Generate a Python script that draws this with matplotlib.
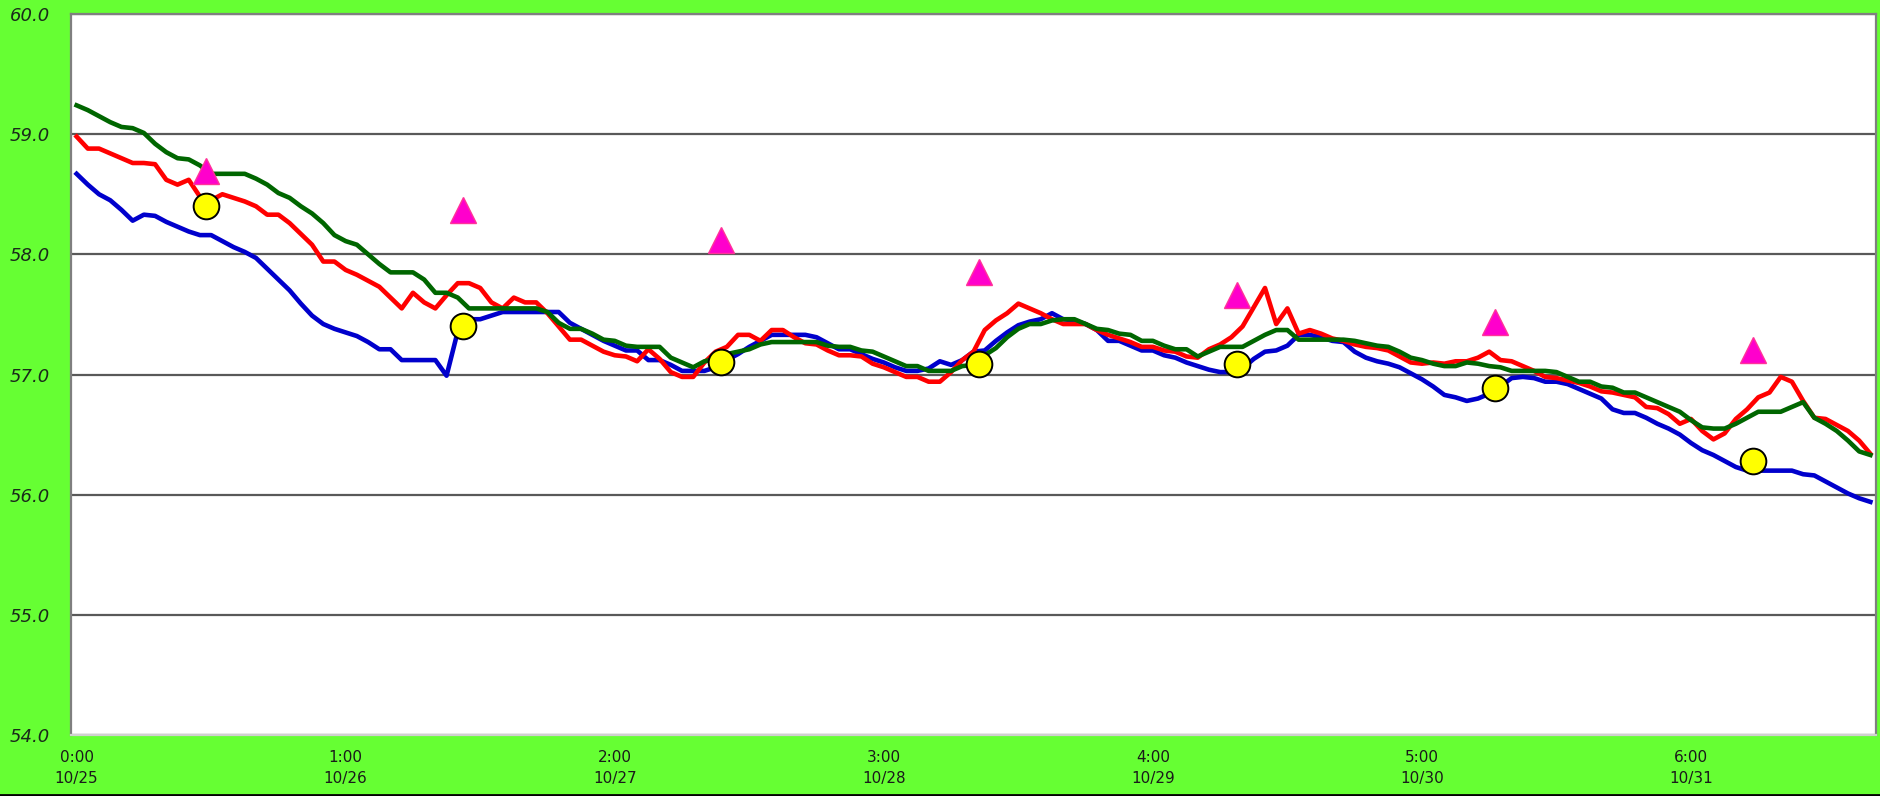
import matplotlib
matplotlib.use("Agg")
import matplotlib.pyplot as plt
from matplotlib.lines import Line2D
import numpy as np

# ---------------- data ----------------
tick_labels = ["0:00\n10/25", "1:00\n10/26", "2:00\n10/27", "3:00\n10/28",
               "4:00\n10/29", "5:00\n10/30", "6:00\n10/31"]
tick_positions = [0, 24, 48, 72, 96, 120, 144]

blue = [58.67, 58.58, 58.50, 58.45, 58.37, 58.28, 58.33, 58.32, 58.27, 58.23,
        58.19, 58.16, 58.16, 58.11, 58.06, 58.02, 57.97, 57.88, 57.79, 57.70,
        57.59, 57.49, 57.42, 57.38, 57.35, 57.32, 57.27, 57.21, 57.21, 57.12,
        57.12, 57.12, 57.12, 56.99, 57.36, 57.46, 57.46, 57.49, 57.52, 57.52,
        57.52, 57.52, 57.52, 57.52, 57.43, 57.38, 57.33, 57.28, 57.24, 57.20,
        57.20, 57.12, 57.12, 57.08, 57.03, 57.03, 57.03, 57.06, 57.12, 57.17,
        57.23, 57.28, 57.33, 57.33, 57.33, 57.33, 57.31, 57.26, 57.21, 57.21,
        57.17, 57.13, 57.10, 57.06, 57.03, 57.03, 57.05, 57.11, 57.08, 57.12,
        57.19, 57.20, 57.28, 57.35, 57.41, 57.44, 57.46, 57.51, 57.46, 57.45,
        57.42, 57.37, 57.28, 57.28, 57.24, 57.20, 57.20, 57.16, 57.14, 57.10,
        57.07, 57.04, 57.02, 57.02, 57.05, 57.13, 57.19, 57.20, 57.24, 57.33,
        57.33, 57.31, 57.28, 57.27, 57.19, 57.14, 57.11, 57.09, 57.06, 57.01,
        56.96, 56.90, 56.83, 56.81, 56.78, 56.80, 56.84, 56.90, 56.97, 56.98,
        56.97, 56.94, 56.94, 56.92, 56.88, 56.84, 56.80, 56.71, 56.68, 56.68,
        56.64, 56.59, 56.55, 56.50, 56.43, 56.37, 56.33, 56.28, 56.23, 56.20,
        56.20, 56.20, 56.20, 56.20, 56.17, 56.16, 56.11, 56.06, 56.01, 55.97,
        55.94]

red = [58.98, 58.88, 58.88, 58.84, 58.80, 58.76, 58.76, 58.75, 58.62, 58.58,
       58.62, 58.48, 58.45, 58.50, 58.47, 58.44, 58.40, 58.33, 58.33, 58.26,
       58.17, 58.08, 57.94, 57.94, 57.87, 57.83, 57.78, 57.73, 57.64, 57.55,
       57.68, 57.60, 57.55, 57.66, 57.76, 57.76, 57.72, 57.60, 57.55, 57.64,
       57.60, 57.60, 57.51, 57.40, 57.29, 57.29, 57.24, 57.19, 57.16, 57.15,
       57.11, 57.21, 57.13, 57.02, 56.98, 56.98, 57.10, 57.19, 57.23, 57.33,
       57.33, 57.28, 57.37, 57.37, 57.31, 57.26, 57.25, 57.20, 57.16, 57.16,
       57.15, 57.09, 57.06, 57.02, 56.98, 56.98, 56.94, 56.94, 57.02, 57.12,
       57.19, 57.37, 57.45, 57.51, 57.59, 57.55, 57.51, 57.46, 57.42, 57.42,
       57.42, 57.37, 57.33, 57.30, 57.27, 57.23, 57.23, 57.20, 57.19, 57.15,
       57.14, 57.21, 57.25, 57.31, 57.40, 57.56, 57.72, 57.42, 57.55, 57.34,
       57.37, 57.34, 57.30, 57.28, 57.25, 57.23, 57.22, 57.20, 57.15, 57.10,
       57.09, 57.10, 57.09, 57.11, 57.11, 57.14, 57.19, 57.12, 57.11, 57.07,
       57.03, 56.98, 56.97, 56.95, 56.93, 56.90, 56.86, 56.85, 56.83, 56.81,
       56.73, 56.72, 56.67, 56.59, 56.63, 56.53, 56.46, 56.51, 56.63, 56.71,
       56.81, 56.85, 56.98, 56.94, 56.78, 56.64, 56.63, 56.58, 56.53, 56.45,
       56.34]

green = [59.24, 59.20, 59.15, 59.10, 59.06, 59.05, 59.01, 58.92, 58.85, 58.80,
         58.79, 58.74, 58.67, 58.67, 58.67, 58.67, 58.63, 58.58, 58.51, 58.47,
         58.40, 58.34, 58.26, 58.16, 58.11, 58.08, 58.00, 57.92, 57.85, 57.85,
         57.85, 57.79, 57.68, 57.68, 57.64, 57.55, 57.55, 57.55, 57.55, 57.55,
         57.55, 57.55, 57.52, 57.43, 57.38, 57.38, 57.34, 57.29, 57.28, 57.24,
         57.23, 57.23, 57.23, 57.14, 57.10, 57.06, 57.11, 57.13, 57.17, 57.19,
         57.21, 57.25, 57.27, 57.27, 57.27, 57.27, 57.27, 57.24, 57.23, 57.23,
         57.20, 57.19, 57.15, 57.11, 57.07, 57.07, 57.03, 57.03, 57.03, 57.07,
         57.08, 57.16, 57.22, 57.31, 57.38, 57.42, 57.42, 57.45, 57.46, 57.46,
         57.42, 57.38, 57.37, 57.34, 57.33, 57.28, 57.28, 57.24, 57.21, 57.21,
         57.15, 57.19, 57.23, 57.23, 57.23, 57.28, 57.33, 57.37, 57.37, 57.29,
         57.29, 57.29, 57.29, 57.29, 57.28, 57.26, 57.24, 57.23, 57.19, 57.14,
         57.12, 57.09, 57.07, 57.07, 57.10, 57.09, 57.07, 57.06, 57.03, 57.03,
         57.03, 57.03, 57.02, 56.98, 56.94, 56.94, 56.90, 56.89, 56.85, 56.85,
         56.81, 56.77, 56.73, 56.69, 56.62, 56.56, 56.55, 56.55, 56.59, 56.64,
         56.69, 56.69, 56.69, 56.73, 56.77, 56.64, 56.59, 56.53, 56.45, 56.36,
         56.33]

marker_x = [11.5, 34.5, 57.5, 80.5, 103.5, 126.5, 149.5]
triangle_values = [58.69, 58.37, 58.12, 57.85, 57.66, 57.44, 57.20]
circle_values = [58.40, 57.40, 57.10, 57.09, 57.09, 56.89, 56.28]

y_ticks = [54.0, 55.0, 56.0, 57.0, 58.0, 59.0, 60.0]

# ---------------- figure ----------------
BG = "#66FF33"
fig = plt.figure(figsize=(18.8, 7.96), dpi=100, facecolor=BG)
ax = fig.add_axes([71 / 1880, 1 - 735 / 796, 1805 / 1880, 721 / 796])
ax.set_facecolor("white")

x = np.arange(len(blue))
ax.plot(x, blue, color="#0000CC", lw=3.3, solid_joinstyle="round", zorder=3)
ax.plot(x, red, color="#FF0000", lw=3.3, solid_joinstyle="round", zorder=4)
ax.plot(x, green, color="#006600", lw=3.3, solid_joinstyle="round", zorder=5)

ax.plot(marker_x, triangle_values, linestyle="none", marker="^", markersize=19,
        markerfacecolor="#FF00CC", markeredgecolor="#FF3399",
        markeredgewidth=1.0, zorder=6)
ax.plot(marker_x, circle_values, linestyle="none", marker="o", markersize=18.5,
        markerfacecolor="#FFFF00", markeredgecolor="black",
        markeredgewidth=1.4, zorder=6)

ax.set_xlim(-0.5, len(blue) - 0.5)
ax.set_ylim(54, 60)
ax.set_yticks(y_ticks)
ax.set_yticklabels([f"{v:.1f}" for v in y_ticks], fontsize=13,
                   fontstyle="italic", color="#1a2a1a")
ax.set_xticks(tick_positions)
ax.set_xticklabels(tick_labels, fontsize=11, color="#1a1a1a", linespacing=1.45)
ax.tick_params(axis="both", length=0)
ax.tick_params(axis="y", pad=15)
ax.tick_params(axis="x", pad=11)

ax.grid(axis="y", color="#595959", lw=1.6, zorder=1)
ax.set_axisbelow(True)

for side in ["left", "top", "right"]:
    ax.spines[side].set_color("#7f7f7f")
    ax.spines[side].set_linewidth(1.6)
ax.spines["bottom"].set_color("#d0d0d0")
ax.spines["bottom"].set_linewidth(1.6)

# dark bottom edge of the picture
fig.add_artist(Line2D([0, 1], [0.001, 0.001], transform=fig.transFigure,
                      color="black", lw=2))

fig.savefig("out.png", dpi=100, facecolor=BG)
